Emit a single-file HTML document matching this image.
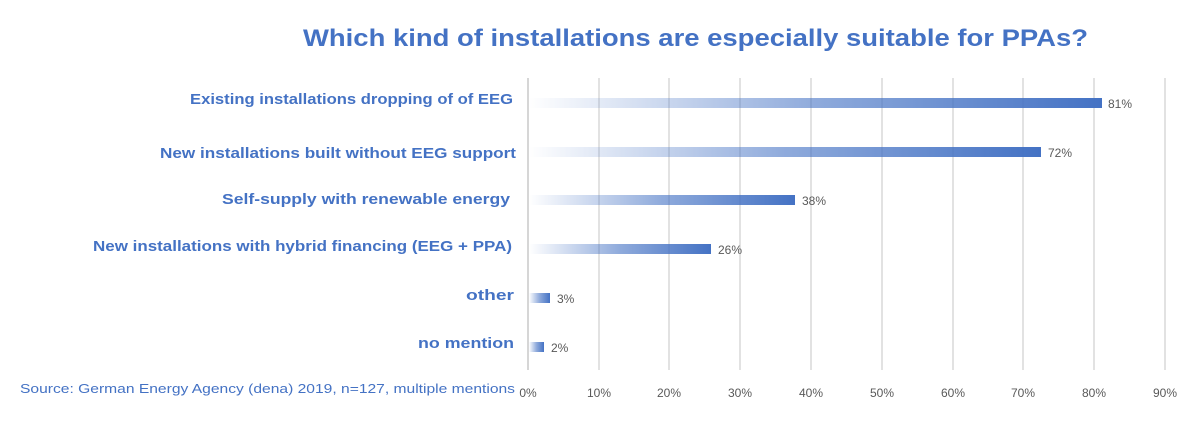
<!DOCTYPE html>
<html><head><meta charset="utf-8"><style>body{margin:0;background:#fff}svg{display:block}</style></head>
<body>
<svg width="1200" height="424" xmlns="http://www.w3.org/2000/svg" font-family="Liberation Sans, sans-serif">
<defs>
<linearGradient id="g" x1="0" x2="1" y1="0" y2="0">
<stop offset="0" stop-color="#4472C4" stop-opacity="0"/>
<stop offset="0.5" stop-color="#4472C4" stop-opacity="0.6"/>
<stop offset="1" stop-color="#4472C4" stop-opacity="1"/>
</linearGradient>
</defs>
<rect width="1200" height="424" fill="#fff"/>
<text x="303" y="46" font-size="24" font-weight="bold" fill="#4472C4" textLength="785" lengthAdjust="spacingAndGlyphs">Which kind of installations are especially suitable for PPAs?</text>
<g stroke="#d9d9d9" stroke-width="1.5">
<line x1="528" y1="78" x2="528" y2="370" stroke="#c8c8c8"/>
<line x1="599" y1="78" x2="599" y2="370"/>
<line x1="669" y1="78" x2="669" y2="370"/>
<line x1="740" y1="78" x2="740" y2="370"/>
<line x1="811" y1="78" x2="811" y2="370"/>
<line x1="882" y1="78" x2="882" y2="370"/>
<line x1="953" y1="78" x2="953" y2="370"/>
<line x1="1023" y1="78" x2="1023" y2="370"/>
<line x1="1094" y1="78" x2="1094" y2="370"/>
<line x1="1165" y1="78" x2="1165" y2="370"/>
</g>
<g fill="url(#g)">
<rect x="529" y="98" width="573" height="10"/>
<rect x="529" y="147" width="512" height="10"/>
<rect x="529" y="195" width="266" height="10"/>
<rect x="529" y="244" width="182" height="10"/>
<rect x="529" y="293" width="21" height="10"/>
<rect x="529" y="342" width="15" height="10"/>
</g>
<g font-size="12" fill="#595959">
<text x="1108" y="108">81%</text>
<text x="1048" y="157">72%</text>
<text x="802" y="205">38%</text>
<text x="718" y="254">26%</text>
<text x="557" y="303">3%</text>
<text x="551" y="352">2%</text>
</g>
<g font-size="15" font-weight="bold" fill="#4472C4" text-anchor="end">
<text x="513" y="104" textLength="323" lengthAdjust="spacingAndGlyphs">Existing installations dropping of of EEG</text>
<text x="516" y="158" textLength="356" lengthAdjust="spacingAndGlyphs">New installations built without EEG support</text>
<text x="510" y="204" textLength="288" lengthAdjust="spacingAndGlyphs">Self-supply with renewable energy</text>
<text x="512" y="251" textLength="419" lengthAdjust="spacingAndGlyphs">New installations with hybrid financing (EEG + PPA)</text>
<text x="514" y="300" textLength="48" lengthAdjust="spacingAndGlyphs">other</text>
<text x="514" y="348" textLength="96" lengthAdjust="spacingAndGlyphs">no mention</text>
</g>
<text x="20" y="393" font-size="13" fill="#4472C4" textLength="495" lengthAdjust="spacingAndGlyphs">Source: German Energy Agency (dena) 2019, n=127, multiple mentions</text>
<g font-size="12" fill="#595959" text-anchor="middle">
<text x="528" y="397">0%</text>
<text x="599" y="397">10%</text>
<text x="669" y="397">20%</text>
<text x="740" y="397">30%</text>
<text x="811" y="397">40%</text>
<text x="882" y="397">50%</text>
<text x="953" y="397">60%</text>
<text x="1023" y="397">70%</text>
<text x="1094" y="397">80%</text>
<text x="1165" y="397">90%</text>
</g>
</svg>
</body></html>
